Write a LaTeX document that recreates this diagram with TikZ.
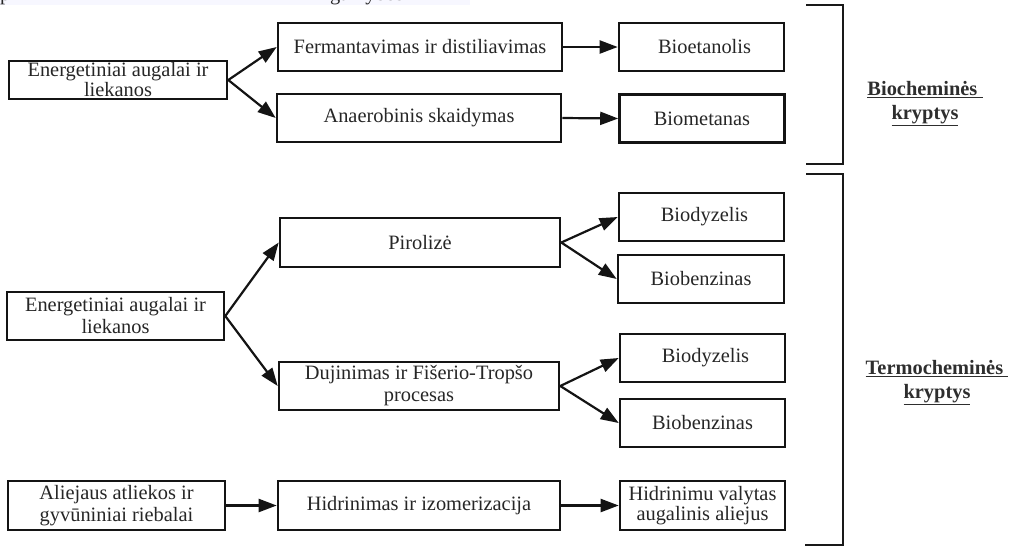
\documentclass[tikz,border=0pt]{standalone}
\usepackage{fontspec}
\setmainfont{Liberation Serif}
\usetikzlibrary{arrows.meta}
\begin{document}
\begin{tikzpicture}[x=1pt,y=-1pt,
  box/.style={draw=black!92, line width=2.6pt, align=center, inner sep=0pt,
    font=\fontsize{20.4}{22}\selectfont, text=black!85},
  link/.style={line width=2.2pt, draw=black!92, -{Triangle[length=18pt,width=13pt]}},
  bracketline/.style={line width=2.4pt, draw=black!90},
  grouptitle/.style={align=center, font=\bfseries\fontsize{20.4}{24}\selectfont, text=black!82},
]
\useasboundingbox (0,0) rectangle (1015,547);

% strip left over from the preceding line of text
\fill[blue!3!white] (0,0) rectangle (470,4.5);
\begin{scope}
  \clip (0,0) rectangle (1015,5);
  \node[anchor=base west, inner sep=0pt, font=\fontsize{20.4}{22}\selectfont, text=black!85] (cutp) at (0,0) {p};
  \node[anchor=base west, inner sep=0pt, font=\fontsize{20.4}{22}\selectfont, text=black!85] (cutg) at (330,0) {gamybos};
\end{scope}

% biochemical routes
\node[box, minimum width=218pt, minimum height=38pt, font=\fontsize{20.4}{20}\selectfont] (a1) at (118,80) {Energetiniai augalai ir\\liekanos};
\node[box, minimum width=284pt, minimum height=48pt] (ferm) at (420,47) {Fermantavimas ir distiliavimas};
\node[box, minimum width=284pt, minimum height=48pt] (anae) at (419,118) {Anaerobinis skaidymas};
\node[box, minimum width=165pt, minimum height=48pt] (etan) at (701.5,47) {\hspace*{6pt}Bioetanolis};
\node[box, minimum width=165pt, minimum height=48pt] (meta) at (702,118.5) {Biometanas};

\draw[link] (a1.east) -- (ferm.west);
\draw[link] (a1.east) -- (anae.west);
\draw[link] (ferm.east) -- (etan.west);
\draw[link] (anae.east) -- (meta.west);

% thermochemical routes
\node[box, minimum width=217pt, minimum height=48pt] (a2) at (115.5,316) {Energetiniai augalai ir\\liekanos};
\node[box, minimum width=280pt, minimum height=49pt] (piro) at (420,242.5) {Pirolizė};
\node[box, minimum width=280pt, minimum height=48pt] (duji) at (419,386) {Dujinimas ir Fišerio-Tropšo\\procesas};
\node[box, minimum width=165pt, minimum height=48pt] (dyz1) at (701.5,217) {\hspace*{6pt}Biodyzelis};
\node[box, minimum width=166pt, minimum height=48pt] (ben1) at (701,279) {Biobenzinas};
\node[box, minimum width=165pt, minimum height=48pt] (dyz2) at (702.5,358) {\hspace*{6pt}Biodyzelis};
\node[box, minimum width=165pt, minimum height=48pt] (ben2) at (702.5,423) {Biobenzinas};

\draw[link] (a2.east) -- (piro.west);
\draw[link] (a2.east) -- (duji.west);
\draw[link] (piro.east) -- (dyz1.west);
\draw[link] (piro.east) -- (ben1.west);
\draw[link] (duji.east) -- (dyz2.west);
\draw[link] (duji.east) -- (ben2.west);

% hydrotreating route
\node[box, minimum width=217pt, minimum height=49pt] (alie) at (116.5,505.5) {Aliejaus atliekos ir\\gyvūniniai riebalai};
\node[box, minimum width=282pt, minimum height=49pt] (hidr) at (419,505.5) {Hidrinimas ir izomerizacija};
\node[box, minimum width=165pt, minimum height=49pt, font=\fontsize{20.4}{20}\selectfont] (hvo) at (702.5,505.5) {Hidrinimu valytas\\augalinis aliejus};

\draw[link] (alie.east) -- (hidr.west);
\draw[link] (hidr.east) -- (hvo.west);

% group brackets and their titles
\coordinate (b1t) at (806,5);
\coordinate (b1b) at (806,164);
\coordinate (b2t) at (806,174);
\coordinate (b2b) at (805,545);
\draw[bracketline] (b1t) -- (843,5) -- (843,164) -- (b1b);
\draw[bracketline] (b2t) -- (843,174) -- (843,545) -- (b2b);

\node[grouptitle] (bio) at (925,104) {\underline{Biocheminės\ }\\\underline{kryptys}};
\node[grouptitle] (termo) at (937,383) {\underline{Termocheminės\ }\\\underline{kryptys}};
\end{tikzpicture}
\end{document}
